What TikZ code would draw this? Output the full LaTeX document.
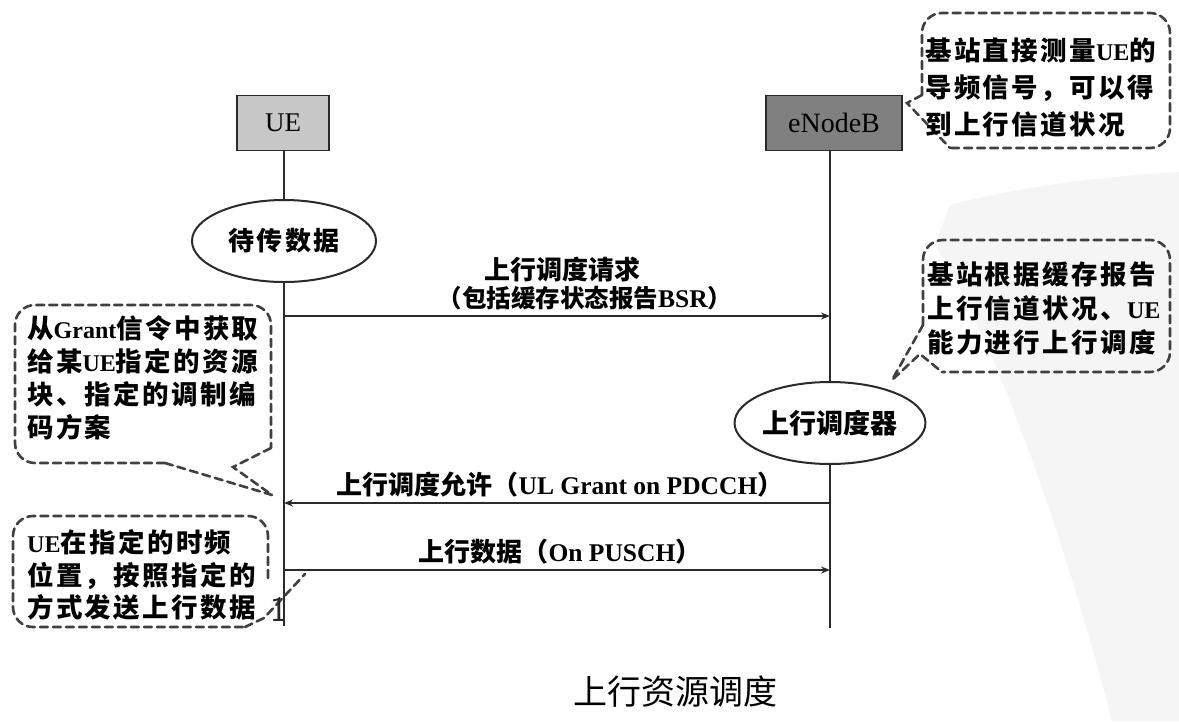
\documentclass[tikz,border=0pt]{standalone}
\usepackage{fontspec}
\setmainfont{Liberation Serif}
\newfontfamily\cjk{Noto Sans CJK SC}
\newfontfamily\cjksp[LetterSpace=9]{Noto Sans CJK SC}
\usetikzlibrary{shapes.geometric,arrows.meta}
\newcommand\latc[1]{{\rmfamily\fontsize{24}{30}\selectfont #1}}
\newcommand\latm[1]{{\rmfamily\fontsize{25.5}{30}\selectfont #1}}
\definecolor{ink}{HTML}{2A2A2A}
\tikzset{
  actorbox/.style={draw=ink, line width=1.8pt, minimum width=92pt, minimum height=55pt, inner sep=0pt, font=\fontsize{27}{30}\selectfont},
  stateoval/.style={ellipse, draw=ink, line width=2pt, fill=white, minimum width=184pt, minimum height=82pt, inner sep=0pt},
  lifeline/.style={draw=ink, line width=2pt},
  msg/.style={draw=ink, line width=2.2pt, -{Stealth[length=9pt,width=7pt]}},
  msglabel/.style={inner sep=0pt, font=\cjk\bfseries\fontsize{26}{30}\selectfont},
  callout/.style={draw=black!75, line width=2.6pt, dash pattern=on 8pt off 5pt, line cap=round},
  callouttext/.style={inner sep=0pt, align=left, anchor=west, font=\cjksp\bfseries\fontsize{26}{33}\selectfont}
}
\begin{document}
\begin{tikzpicture}[x=1pt,y=-1pt]
\useasboundingbox (0,0) rectangle (1179,721);
\fill[white] (0,0) rectangle (1179,721);
% faint watermark
\fill[black!4] (950,205) .. controls (1040,182) and (1120,176) .. (1179,172) -- (1179,721) -- (1112,721) .. controls (1060,520) and (990,330) .. (935,245) -- cycle;

% actors
\node[actorbox, fill=black!22] (ue) at (283,123) {UE};
\node[actorbox, fill=black!50, minimum width=136pt, font=\fontsize{28}{30}\selectfont] (enb) at (834,123) {eNodeB};

% states
\node[stateoval, font=\cjksp\bfseries\fontsize{26}{30}\selectfont] (wait) at (284,241) {待传数据};
\node[stateoval, font=\cjk\bfseries\fontsize{27}{30}\selectfont] (sched) at (830,423) {上行调度器};

% lifeline ends
\coordinate (ueEnd) at (284,626);
\coordinate (enbEnd) at (830,628);

\draw[lifeline] (ue.south -| wait) -- (wait.north);
\draw[lifeline] (wait.south) -- (ueEnd);
\draw[lifeline] (enb.south -| sched) -- (sched.north);
\draw[lifeline] (sched.south) -- (enbEnd);

% message end points
\coordinate (m1a) at (284,316);
\coordinate (m1b) at (830,316);
\coordinate (m2a) at (830,503);
\coordinate (m2b) at (284,503);
\coordinate (m3a) at (284,570);
\coordinate (m3b) at (830,570);

\draw[msg] (m1a) -- (m1b);
\draw[msg] (m2a) -- (m2b);
\draw[msg] (m3a) -- (m3b);

\node[msglabel] (l1a) at (562,270) {上行调度请求};
\node[msglabel, font=\cjk\bfseries\fontsize{24.5}{30}\selectfont] (l1b) at (585,298) {（包括缓存状态报告\latm{BSR}）};
\node[msglabel] (l2) at (560,485) {上行调度允许（\latm{UL Grant on PDCCH}）};
\node[msglabel] (l3) at (560,552) {上行数据（\latm{On PUSCH}）};

% callout: top right
\draw[callout, rounded corners=20pt] (922,95) -- (922,13) -- (1170,13) -- (1170,148) -- (950,148);
\draw[callout] (922,95) -- (907,103) -- (950,148);
\node[callouttext, font=\cjksp\bfseries\fontsize{26.5}{37}\selectfont] (c1) at (925,88) {基站直接测量\latc{UE}的\\导频信号，可以得\\到上行信道状况};

% callout: middle right
\draw[callout, rounded corners=20pt] (923,325) -- (923,240) -- (1170,240) -- (1170,372) -- (942,372);
\draw[callout] (923,325) -- (892,380) -- (920,354) -- (942,372);
\node[callouttext, font=\cjksp\bfseries\fontsize{26.5}{34}\selectfont] (c2) at (927,308) {基站根据缓存报告\\上行信道状况、\latc{UE}\\能力进行上行调度};

% callout: left top
\draw[callout, rounded corners=20pt] (165,463) -- (15,463) -- (15,305) -- (271,305) -- (271,448);
\draw[callout] (271,448) -- (233,467) -- (272,495);
\draw[callout] (165,463) -- (272,495);
\node[callouttext, font=\cjksp\bfseries\fontsize{26.5}{33}\selectfont] (c3) at (27,378) {从\latc{Grant}信令中获取\\给某\latc{UE}指定的资源\\块、指定的调制编\\码方案};

% callout: left bottom
\draw[callout, rounded corners=20pt] (268,578) -- (268,516) -- (13,516) -- (13,627) -- (245,627);
\draw[callout] (245,627) -- (264,618) -- (305,574);
\node[callouttext, font=\cjksp\bfseries\fontsize{26.5}{32.5}\selectfont] (c4) at (27,575) {\latc{UE}在指定的时频\\位置，按照指定的\\方式发送上行数据};
\node[inner sep=0pt, font=\fontfamily{lmss}\fontsize{36}{36}\selectfont, text=black!85] (stray) at (279,609) {1};

% title
\node[inner sep=0pt, font=\cjk\fontsize{34}{36}\selectfont] (title) at (675,692) {上行资源调度};
\end{tikzpicture}
\end{document}
